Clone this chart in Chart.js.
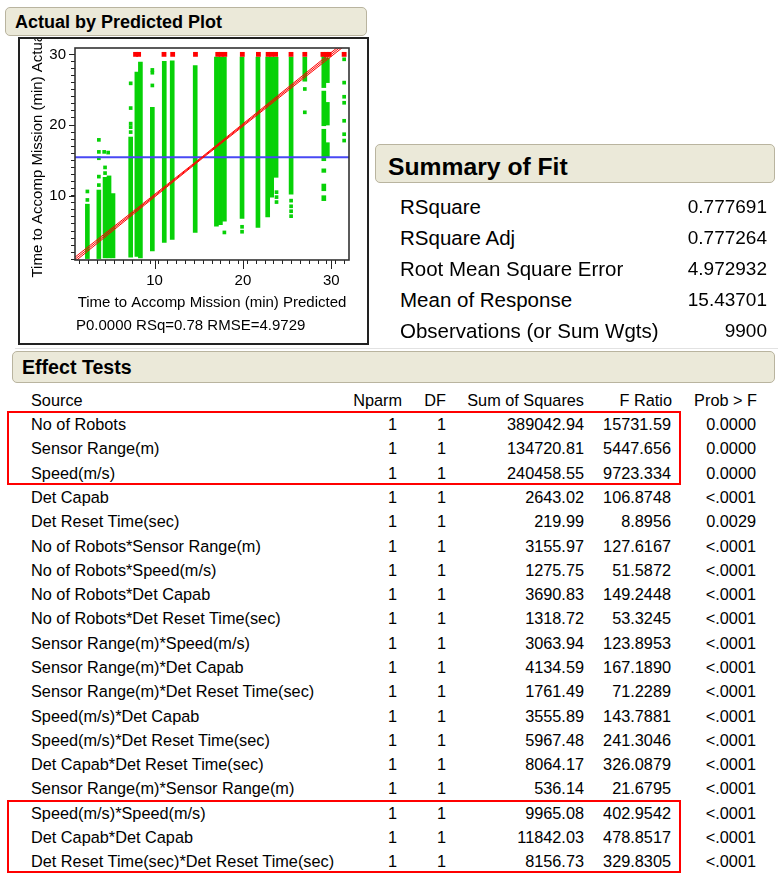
<!DOCTYPE html>
<html>
<head>
<meta charset="utf-8">
<script src="https://cdn.jsdelivr.net/npm/chart.js"></script>
<style>
  body { margin: 0; background: #fff; width: 778px; height: 873px; position: relative; overflow: hidden;
         font-family: "Liberation Sans", Arial, sans-serif; color: #000; }
  .bar { position: absolute; background: #ebe9d9; border: 1px solid #b9b49f; border-radius: 5px; box-sizing: border-box; }
  .t { position: absolute; white-space: nowrap; }
  .box { position: absolute; border: 2px solid #f00; box-sizing: border-box; }
  #frame { position: absolute; left: 18px; top: 37px; width: 351px; height: 308px; border: 2px solid #222;
           box-sizing: border-box; z-index: 2; }
  #plotWrap { position: absolute; left: 20px; top: 39px; width: 347px; height: 304px; }
</style>
</head>
<body>
<div class="bar" style="left:5px;top:7px;width:362px;height:29px"></div>
<div class="bar" style="left:375px;top:144px;width:400px;height:39px"></div>
<div class="bar" style="left:12px;top:351px;width:763px;height:32px"></div>
<div style="position:absolute;left:15px;top:348px;width:763px;height:1px;background:#e2e2e2"></div>
<div id="plotWrap"><canvas id="plot" width="347" height="304"></canvas></div>
<div id="frame"></div>
<div class="box" style="left:7px;top:411px;width:674px;height:74px"></div>
<div class="box" style="left:7px;top:800px;width:674px;height:73px"></div>

<script>
// ---- Actual by Predicted plot data ----
// dense runs of points: predicted value, lowest and highest actual
const stripeX  = [2.4, 3.7, 4.4, 4.85, 5.3, 7.3, 8.0, 8.4, 9.75, 11.1, 12.0, 14.6, 17.0, 17.45, 17.9, 19.9, 21.7, 22.8, 23.25, 23.75, 25.45, 27.0, 29.15, 29.15, 29.15, 29.15, 29.15, 29.15, 29.55, 29.55, 29.55];
const stripeLo = [1.1, 1.1, 1.2, 1.2, 1.2, 1.3, 1.4, 1.2, 2.2, 3.4, 3.8, 4.8, 5.7, 5.9, 6.4, 6.8, 5.5, 7.0, 9.8, 12.6, 10.2, 26.2, 25.3, 19.9, 14.95, 13.3, 10.7, 9.3, 26.0, 20.0, 15.5];
const stripeHi = [8.8, 10.8, 12.6, 12.8, 10.3, 18.3, 27.5, 28.9, 22.5, 29.0, 29.1, 28.4, 29.6, 29.6, 29.6, 29.6, 29.6, 29.6, 29.6, 29.6, 29.6, 29.6, 29.7, 24.8, 19.4, 13.8, 11.65, 10.0, 29.5, 23.2, 17.5];

// single points away from the runs
const isoX = [2.4, 2.4, 3.7, 3.7, 3.7, 3.7, 3.7, 4.3, 4.75, 4.4, 4.4, 7.3, 7.3, 7.3, 7.3, 7.3, 9.75, 9.75, 9.75, 17.9, 19.9, 19.9, 23.8, 23.8, 23.8, 25.45, 25.45, 25.45, 25.45, 27.0, 27.0, 31.45, 31.45, 31.45, 31.45, 31.45, 31.45, 31.45];
const isoY = [10.6, 9.4, 17.9, 16.2, 15.3, 12.7, 11.5, 16.2, 16.1, 14.0, 13.2, 25.9, 22.4, 20.2, 19.7, 19.0, 27.8, 27.4, 25.6, 4.8, 5.6, 4.9, 10.5, 9.8, 9.1, 9.3, 8.5, 7.8, 7.1, 25.1, 21.8, 29.3, 26.0, 24.0, 23.15, 20.6, 18.7, 17.8];

// points at the 30 min ceiling (shown red)
const capX = [7.85, 8.2, 11.07, 12.05, 14.63, 17.15, 17.55, 17.95, 19.93, 21.75, 22.85, 23.25, 23.7, 25.44, 27.0, 29.05, 29.45, 29.75, 31.45];
const capY = [30, 30, 30, 30, 30, 30, 30, 30, 30, 30, 30, 30, 30, 30, 30, 30, 30, 30, 30];

// fit line (actual = predicted) and its confidence curves
const fitX   = [0.9, 8, 15.44, 23, 32];
const fitY   = [0.9, 8, 15.44, 23, 32];
const bandLo = [0.6, 7.8, 15.32, 22.8, 31.7];
const bandHi = [1.2, 8.2, 15.56, 23.2, 32.3];

// mean of response
const meanX = [1, 32];
const meanY = [15.437, 15.437];

const xMajorTicks = [10, 20, 30];
const yMajorTicks = [10, 20, 30];
const xMinorTicks = Array.from({ length: 32 }, (_, i) => i + 1);
const yMinorTicks = Array.from({ length: 30 }, (_, i) => i + 1);

// ---- Summary of Fit ----
const fitLabels = ["RSquare", "RSquare Adj", "Root Mean Square Error", "Mean of Response", "Observations (or Sum Wgts)"];
const fitValues = ["0.777691", "0.777264", "4.972932", "15.43701", "9900"];

// ---- Effect Tests ----
const sources = ["No of Robots", "Sensor Range(m)", "Speed(m/s)", "Det Capab", "Det Reset Time(sec)",
  "No of Robots*Sensor Range(m)", "No of Robots*Speed(m/s)", "No of Robots*Det Capab", "No of Robots*Det Reset Time(sec)",
  "Sensor Range(m)*Speed(m/s)", "Sensor Range(m)*Det Capab", "Sensor Range(m)*Det Reset Time(sec)",
  "Speed(m/s)*Det Capab", "Speed(m/s)*Det Reset Time(sec)", "Det Capab*Det Reset Time(sec)",
  "Sensor Range(m)*Sensor Range(m)", "Speed(m/s)*Speed(m/s)", "Det Capab*Det Capab", "Det Reset Time(sec)*Det Reset Time(sec)"];
const nparm = [1, 1, 1, 1, 1, 1, 1, 1, 1, 1, 1, 1, 1, 1, 1, 1, 1, 1, 1];
const dfs = [1, 1, 1, 1, 1, 1, 1, 1, 1, 1, 1, 1, 1, 1, 1, 1, 1, 1, 1];
const sumSq = [389042.94, 134720.81, 240458.55, 2643.02, 219.99, 3155.97, 1275.75, 3690.83, 1318.72, 3063.94,
  4134.59, 1761.49, 3555.89, 5967.48, 8064.17, 536.14, 9965.08, 11842.03, 8156.73];
const fRatio = ["15731.59", "5447.656", "9723.334", "106.8748", "8.8956", "127.6167", "51.5872", "149.2448", "53.3245",
  "123.8953", "167.1890", "71.2289", "143.7881", "241.3046", "326.0879", "21.6795", "402.9542", "478.8517", "329.8305"];
const probF = ["0.0000", "0.0000", "0.0000", "<.0001", "0.0029", "<.0001", "<.0001", "<.0001", "<.0001", "<.0001",
  "<.0001", "<.0001", "<.0001", "<.0001", "<.0001", "<.0001", "<.0001", "<.0001", "<.0001"];

// text helper: x is left edge (or right edge when align is right), base is the baseline
function put(text, x, base, size, align, bold) {
  const lh = Math.round(size * 1.25);
  const d = document.createElement("div");
  d.className = "t";
  d.textContent = text;
  d.style.fontSize = size + "px";
  d.style.lineHeight = lh + "px";
  d.style.top = (base - lh / 2 - 0.3465 * size) + "px";
  if (bold) d.style.fontWeight = "bold";
  if (align === "right") {
    d.style.left = (x - 500) + "px";
    d.style.width = "500px";
    d.style.textAlign = "right";
  } else {
    d.style.left = x + "px";
  }
  document.body.appendChild(d);
}

put("Actual by Predicted Plot", 15, 28.3, 18, "left", true);
put("Summary of Fit", 388, 175, 24.7, "left", true);
put("Effect Tests", 22, 374, 19.6, "left", true);
put("P0.0000 RSq=0.78 RMSE=4.9729", 76, 330, 15, "left");

fitLabels.forEach((s, i) => {
  put(s, 400, 214 + 31 * i, 20.5, "left");
  put(fitValues[i], 767, 214 + 31 * i, 19, "right");
});

const hdrBase = 405.8;
put("Source", 31, hdrBase, 16.3, "left");
put("Nparm", 402, hdrBase, 16.3, "right");
put("DF", 446, hdrBase, 16.3, "right");
put("Sum of Squares", 584, hdrBase, 16.3, "right");
put("F Ratio", 672, hdrBase, 16.3, "right");
put("Prob > F", 757, hdrBase, 16.3, "right");
sources.forEach((s, i) => {
  const b = 429.8 + 24.28 * i;
  put(s, 31, b, 16.3, "left");
  put(String(nparm[i]), 397, b, 16.3, "right");
  put(String(dfs[i]), 446, b, 16.3, "right");
  put(sumSq[i].toFixed(2), 584, b, 16.3, "right");
  put(fRatio[i], 671, b, 16.3, "right");
  put(probF[i], 756, b, 16.3, "right");
});

// ---- chart ----
Chart.defaults.font.family = '"Liberation Sans", Arial, sans-serif';
Chart.defaults.color = "#000";

const green = "#07d107";
const pts = (xs, ys) => xs.map((x, i) => ({ x: x, y: ys[i] }));

const plotBox = {
  id: "plotBox",
  afterDraw(chart) {
    const { ctx, chartArea: a, scales: { x, y } } = chart;
    ctx.save();
    ctx.strokeStyle = "#222";
    ctx.lineWidth = 1;
    ctx.beginPath();
    xMajorTicks.forEach(v => {
      const px = Math.round(x.getPixelForValue(v)) + 0.5;
      ctx.moveTo(px, a.bottom);
      ctx.lineTo(px, a.bottom + 9);
    });
    yMajorTicks.forEach(v => {
      const py = Math.round(y.getPixelForValue(v)) + 0.5;
      ctx.moveTo(a.left - 6, py);
      ctx.lineTo(a.left, py);
    });
    ctx.stroke();
    ctx.lineWidth = 1.6;
    ctx.strokeStyle = "#333";
    ctx.strokeRect(a.left, a.top, a.right - a.left, a.bottom - a.top);
    ctx.restore();
  }
};

new Chart(document.getElementById("plot"), {
  type: "scatter",
  data: {
    datasets: [
      { type: "line", data: pts(fitX, fitY), borderColor: "#f00", borderWidth: 1, pointRadius: 0, order: 0 },
      { type: "line", data: pts(fitX, bandLo), borderColor: "#f00", borderWidth: 1, pointRadius: 0, order: 0 },
      { type: "line", data: pts(fitX, bandHi), borderColor: "#f00", borderWidth: 1, pointRadius: 0, order: 0 },
      { type: "line", data: pts(meanX, meanY), borderColor: "#4848f4", borderWidth: 2, pointRadius: 0, order: 1 },
      { type: "scatter", data: pts(capX, capY), pointStyle: "rect", pointRadius: 3.4, backgroundColor: "#f00", borderWidth: 0, order: 2 },
      { type: "scatter", data: pts(isoX, isoY), pointStyle: "rect", pointRadius: 2.6, backgroundColor: green, borderWidth: 0, order: 3 },
      {
        type: "bar",
        data: stripeX.map((x, i) => ({ x: x, y: [stripeLo[i], stripeHi[i]] })),
        backgroundColor: green, borderWidth: 0, barThickness: 4, order: 4
      }
    ]
  },
  options: {
    responsive: false,
    animation: false,
    layout: { padding: { top: 9, right: 18, left: 0, bottom: 0 } },
    plugins: { legend: { display: false }, tooltip: { enabled: false } },
    scales: {
      x: {
        type: "linear", min: 1, max: 32, offset: false,
        afterBuildTicks: axis => { axis.ticks = xMinorTicks.map(v => ({ value: v })); },
        afterFit: s => { s.height = 83; s.paddingLeft = 0; s.paddingRight = 0; },
        ticks: {
          autoSkip: false, maxRotation: 0, padding: 8, font: { size: 15 },
          callback: v => (xMajorTicks.includes(v) ? String(v) : "")
        },
        grid: { drawOnChartArea: false, tickLength: 4, color: "#222" },
        border: { display: false },
        title: { display: true, text: "Time to Accomp Mission (min) Predicted", font: { size: 15 }, padding: { top: 0, bottom: 31 } }
      },
      y: {
        type: "linear", min: 0.9, max: 30.9,
        afterBuildTicks: axis => { axis.ticks = yMinorTicks.map(v => ({ value: v })); },
        afterFit: s => { s.width = 55; s.paddingTop = 0; s.paddingBottom = 0; },
        ticks: {
          autoSkip: false, padding: 5, font: { size: 15 },
          callback: v => (yMajorTicks.includes(v) ? String(v) : "")
        },
        grid: { drawOnChartArea: false, tickLength: 4, color: "#222" },
        border: { display: false },
        title: { display: true, text: "Time to Accomp Mission (min) Actual", font: { size: 15 }, padding: { top: 9, bottom: 0 } }
      }
    }
  },
  plugins: [plotBox]
});
</script>
</body>
</html>
